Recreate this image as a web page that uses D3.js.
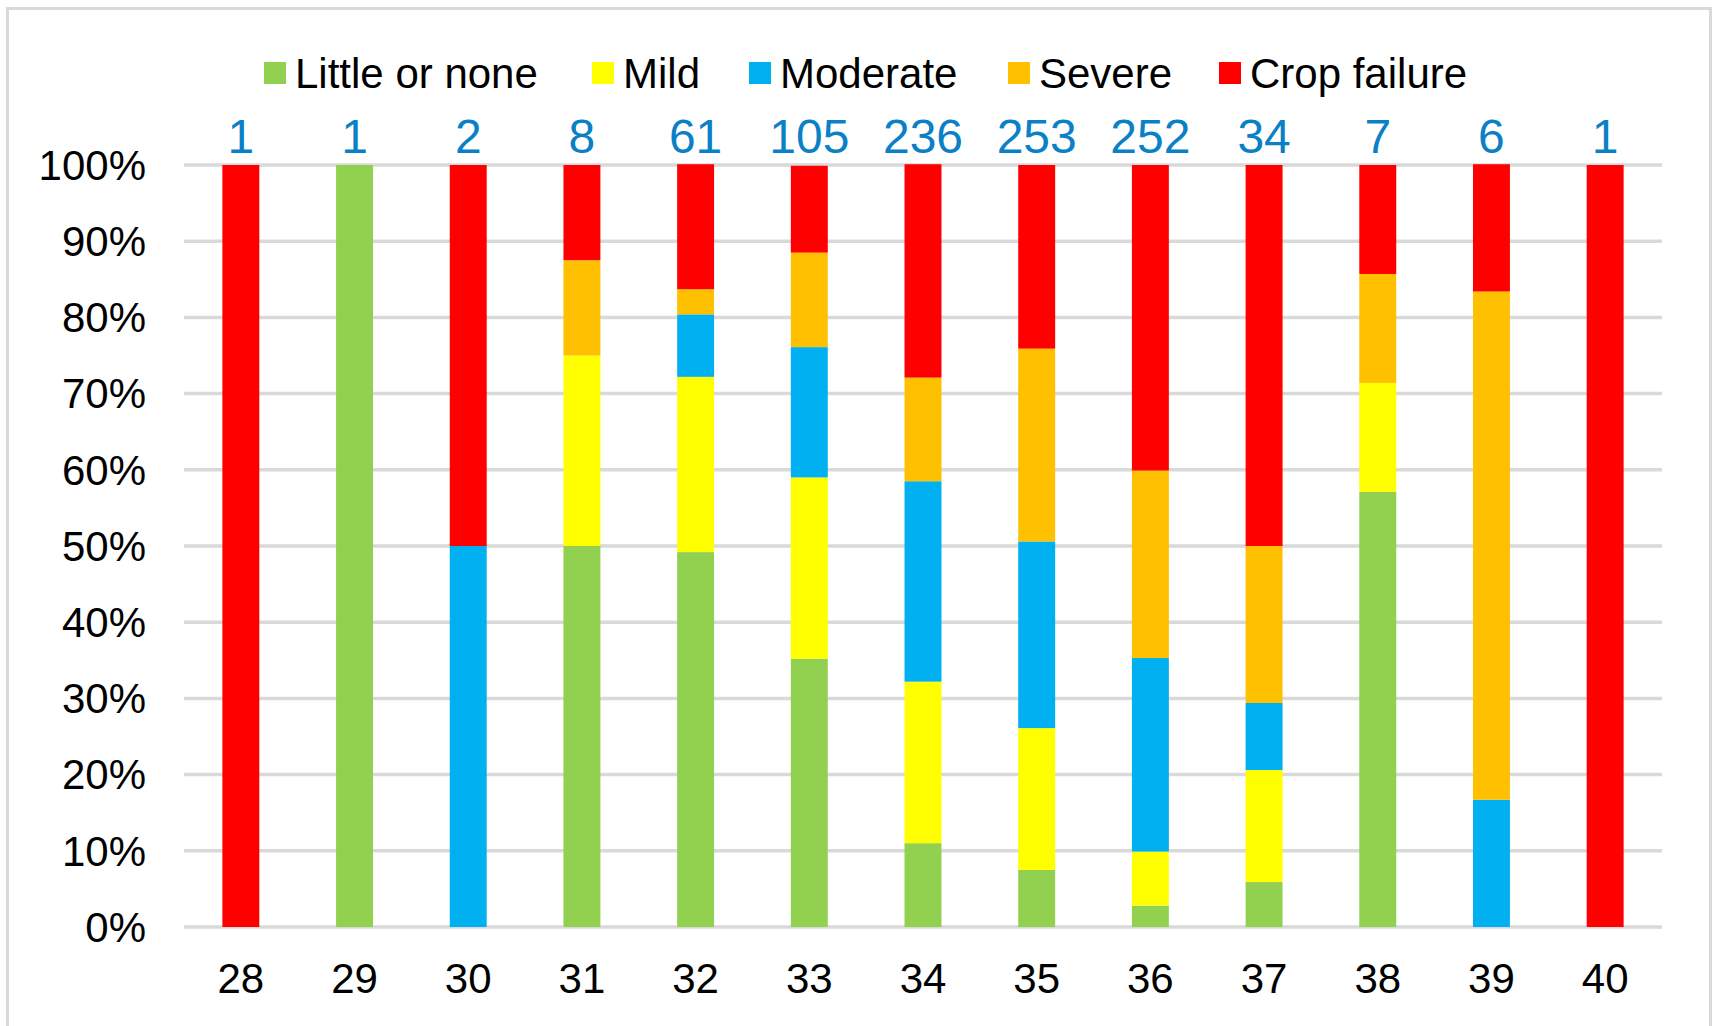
<!DOCTYPE html>
<html lang="en">
<head>
    <title>Crop damage by category</title>
    <script src="https://d3js.org/d3.v7.min.js"></script>
    <style>
        body {
            margin: 0;
            background: white;
        }
        * {
            font-family: "Liberation Sans", Arial, sans-serif;
        }
        .tick-label {
            font-size: 42px;
            fill: black;
        }
        .count {
            font-size: 48px;
            fill: #0a80c6;
            text-anchor: middle;
        }
        .legend-text {
            font-size: 42px;
            fill: black;
        }
    </style>
</head>
<body>
<svg class="bar-chart"></svg>
<script>
// categories on the x axis
const categories = ["28", "29", "30", "31", "32", "33", "34", "35", "36", "37", "38", "39", "40"];
// number of cases per category (blue labels on top)
const counts = [1, 1, 2, 8, 61, 105, 236, 253, 252, 34, 7, 6, 1];

// share (%) of each damage class per category
const littleOrNone = [0, 100, 0, 50, 49.2, 35.2, 11.0, 7.5, 2.8, 5.9, 57.1, 0, 0];
const mild         = [0, 0, 0, 25, 23.0, 23.8, 21.2, 18.6, 7.1, 14.7, 14.3, 0, 0];
const moderate     = [0, 0, 50, 0, 8.2, 17.1, 26.3, 24.5, 25.4, 8.8, 0, 16.7, 0];
const severe       = [0, 0, 0, 12.5, 3.3, 12.4, 13.6, 25.3, 24.6, 20.6, 14.3, 66.7, 0];
const cropFailure  = [100, 0, 50, 12.5, 16.4, 11.4, 28.0, 24.1, 40.1, 50.0, 14.3, 16.7, 100];

const seriesNames = ["Little or none", "Mild", "Moderate", "Severe", "Crop failure"];
const seriesColors = ["#92d050", "#ffff00", "#00b0f0", "#ffc000", "#ff0000"];
const yTicks = [0, 10, 20, 30, 40, 50, 60, 70, 80, 90, 100];

// build rows for d3.stack
const seriesValues = [littleOrNone, mild, moderate, severe, cropFailure];
const rows = categories.map((c, i) => {
    let r = {cat: c};
    seriesNames.forEach((s, j) => { r[s] = seriesValues[j][i]; });
    return r;
});

const w = 1717, h = 1026;
const margin = {top: 165, right: 55, bottom: 99, left: 184};
const width = w - margin.left - margin.right;
const height = h - margin.top - margin.bottom;

let svg = d3.select("svg.bar-chart")
    .attr("width", w)
    .attr("height", h);

// outer frame
svg.append("rect")
    .attr("x", 7.5)
    .attr("y", 8.5)
    .attr("width", 1703)
    .attr("height", 1040)
    .attr("fill", "white")
    .attr("stroke", "#d9d9d9")
    .attr("stroke-width", 3);

let g = svg.append("g")
    .attr("transform", "translate(" + margin.left + "," + margin.top + ")");

const x = d3.scaleBand()
    .domain(categories)
    .range([0, width])
    .paddingInner(0.675)
    .paddingOuter(0.3375);

const y = d3.scaleLinear()
    .domain([0, 100])
    .range([height, 0]);

// gridlines
g.append("g")
    .selectAll("line")
    .data(yTicks)
    .enter()
    .append("line")
    .attr("x1", 0)
    .attr("x2", width)
    .attr("y1", d => y(d))
    .attr("y2", d => y(d))
    .attr("stroke", "#d9d9d9")
    .attr("stroke-width", 3.5);

// y axis labels
g.append("g")
    .selectAll("text")
    .data(yTicks)
    .enter()
    .append("text")
    .attr("class", "tick-label")
    .attr("x", -38)
    .attr("y", d => y(d))
    .attr("dy", "0.35em")
    .attr("text-anchor", "end")
    .text(d => d + "%");

// x axis labels
g.append("g")
    .selectAll("text")
    .data(categories)
    .enter()
    .append("text")
    .attr("class", "tick-label")
    .attr("x", d => x(d) + x.bandwidth() / 2)
    .attr("y", height + 51)
    .attr("dy", "0.35em")
    .attr("text-anchor", "middle")
    .text(d => d);

// stacked bars
const stacked = d3.stack().keys(seriesNames)(rows);
g.append("g")
    .selectAll("g")
    .data(stacked)
    .enter()
    .append("g")
    .attr("fill", (d, i) => seriesColors[i])
    .selectAll("rect")
    .data(d => d)
    .enter()
    .append("rect")
    .attr("x", d => x(d.data.cat))
    .attr("y", d => y(d[1]))
    .attr("width", x.bandwidth())
    .attr("height", d => y(d[0]) - y(d[1]));

// counts on top
g.append("g")
    .selectAll("text")
    .data(categories)
    .enter()
    .append("text")
    .attr("class", "count")
    .attr("x", d => x(d) + x.bandwidth() / 2)
    .attr("y", -12)
    .text((d, i) => counts[i]);

// legend
const legendX = [264, 592, 749, 1008, 1219];
let legend = svg.append("g");
seriesNames.forEach((s, i) => {
    legend.append("rect")
        .attr("x", legendX[i])
        .attr("y", 62)
        .attr("width", 22)
        .attr("height", 22)
        .attr("fill", seriesColors[i]);
    legend.append("text")
        .attr("class", "legend-text")
        .attr("x", legendX[i] + 31)
        .attr("y", 73)
        .attr("dy", "0.35em")
        .text(s);
});
</script>
</body>
</html>
